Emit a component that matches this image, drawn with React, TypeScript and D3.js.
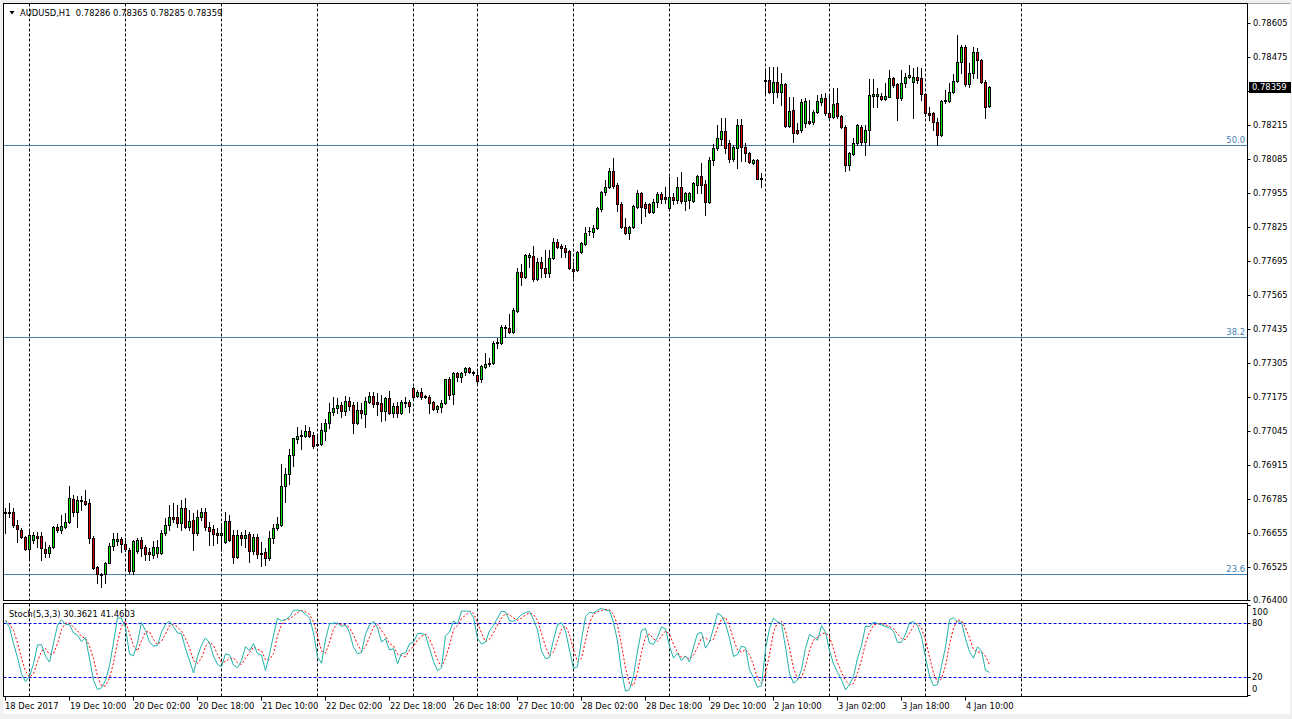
import React from "react";
import * as d3 from "d3";

// AUDUSD H1 candles (bar index 0 = 18 Dec 18:00)
const open = [
0.76731,0.76731,0.76735,0.76686,0.76667,0.76640,0.76595,0.76629,0.76644,0.76644,
0.76595,0.76580,0.76602,0.76678,0.76667,0.76678,0.76697,0.76786,0.76735,0.76782,
0.76778,0.76771,0.76636,0.76525,0.76499,0.76499,0.76541,0.76606,0.76625,0.76633,
0.76614,0.76591,0.76510,0.76587,0.76629,0.76602,0.76583,0.76572,0.76580,0.76580,
0.76656,0.76686,0.76716,0.76716,0.76694,0.76751,0.76678,0.76705,0.76656,0.76716,
0.76735,0.76678,0.76671,0.76656,0.76648,0.76621,0.76701,0.76648,0.76564,0.76648,
0.76636,0.76652,0.76587,0.76640,0.76580,0.76583,0.76560,0.76636,0.76674,0.76686,
0.76835,0.76881,0.76954,0.77015,0.77026,0.77026,0.77045,0.77030,0.76992,0.76996,
0.77045,0.77076,0.77117,0.77133,0.77145,0.77122,0.77160,0.77145,0.77076,0.77125,
0.77110,0.77156,0.77179,0.77156,0.77152,0.77122,0.77171,0.77114,0.77141,0.77114,
0.77156,0.77156,0.77210,0.77179,0.77194,0.77179,0.77175,0.77156,0.77129,0.77137,
0.77152,0.77244,0.77187,0.77267,0.77252,0.77271,0.77286,0.77271,0.77259,0.77244,
0.77290,0.77301,0.77305,0.77382,0.77382,0.77442,0.77439,0.77423,0.77503,0.77652,
0.77633,0.77710,0.77714,0.77626,0.77691,0.77668,0.77649,0.77706,0.77768,0.77752,
0.77744,0.77733,0.77664,0.77660,0.77729,0.77760,0.77809,0.77806,0.77821,0.77894,
0.77959,0.77978,0.78039,0.77985,0.77913,0.77825,0.77802,0.77825,0.77901,0.77955,
0.77913,0.77913,0.77882,0.77920,0.77951,0.77939,0.77897,0.77939,0.77928,0.77978,
0.77924,0.77928,0.77924,0.77985,0.78020,0.77989,0.77920,0.78081,0.78127,0.78161,
0.78192,0.78146,0.78085,0.78127,0.78214,0.78130,0.78107,0.78069,0.78081,0.78012,
0.78386,0.78386,0.78340,0.78379,0.78340,0.78371,0.78211,0.78272,0.78195,0.78195,
0.78222,0.78230,0.78226,0.78264,0.78302,0.78318,0.78260,0.78245,0.78299,0.78249,
0.78207,0.78062,0.78104,0.78146,0.78207,0.78149,0.78195,0.78325,0.78325,0.78325,
0.78314,0.78321,0.78394,0.78371,0.78318,0.78375,0.78398,0.78379,0.78398,0.78394,
0.78333,0.78260,0.78260,0.78226,0.78176,0.78306,0.78306,0.78340,0.78383,0.78455,
0.78512,0.78371,0.78413,0.78493,0.78463,0.78379,0.78286];

const high = [
0.76751,0.76771,0.76751,0.76705,0.76674,0.76644,0.76667,0.76659,0.76659,0.76659,
0.76621,0.76610,0.76682,0.76690,0.76724,0.76731,0.76835,0.76801,0.76797,0.76797,
0.76820,0.76786,0.76644,0.76529,0.76503,0.76545,0.76618,0.76656,0.76656,0.76640,
0.76636,0.76598,0.76629,0.76636,0.76640,0.76610,0.76598,0.76625,0.76629,0.76667,
0.76713,0.76763,0.76771,0.76763,0.76782,0.76790,0.76743,0.76732,0.76743,0.76751,
0.76751,0.76697,0.76686,0.76674,0.76694,0.76735,0.76724,0.76667,0.76667,0.76659,
0.76667,0.76659,0.76652,0.76652,0.76621,0.76598,0.76663,0.76690,0.76716,0.76919,
0.76904,0.76977,0.77019,0.77060,0.77049,0.77068,0.77060,0.77041,0.77030,0.77076,
0.77091,0.77153,0.77175,0.77171,0.77156,0.77179,0.77175,0.77156,0.77156,0.77152,
0.77175,0.77194,0.77194,0.77190,0.77183,0.77175,0.77198,0.77152,0.77156,0.77164,
0.77175,0.77164,0.77214,0.77202,0.77210,0.77183,0.77183,0.77160,0.77145,0.77164,
0.77244,0.77251,0.77271,0.77270,0.77271,0.77290,0.77290,0.77275,0.77278,0.77298,
0.77343,0.77324,0.77389,0.77401,0.77450,0.77450,0.77492,0.77515,0.77668,0.77683,
0.77721,0.77725,0.77752,0.77706,0.77710,0.77737,0.77737,0.77783,0.77779,0.77760,
0.77756,0.77737,0.77691,0.77733,0.77767,0.77825,0.77825,0.77832,0.77901,0.77962,
0.78004,0.78050,0.78088,0.77993,0.77920,0.77859,0.77829,0.77909,0.77966,0.77959,
0.77920,0.77917,0.77932,0.77959,0.77959,0.77978,0.78016,0.77955,0.78016,0.78035,
0.77959,0.77959,0.77997,0.78024,0.78069,0.78004,0.78092,0.78142,0.78214,0.78241,
0.78241,0.78157,0.78138,0.78237,0.78237,0.78146,0.78111,0.78085,0.78085,0.78031,
0.78425,0.78436,0.78436,0.78436,0.78413,0.78375,0.78321,0.78321,0.78222,0.78314,
0.78318,0.78310,0.78272,0.78329,0.78333,0.78337,0.78329,0.78356,0.78356,0.78253,
0.78214,0.78111,0.78165,0.78218,0.78214,0.78214,0.78390,0.78390,0.78356,0.78337,
0.78375,0.78425,0.78398,0.78375,0.78425,0.78413,0.78444,0.78432,0.78436,0.78432,
0.78337,0.78283,0.78264,0.78241,0.78310,0.78348,0.78375,0.78409,0.78558,0.78520,
0.78520,0.78451,0.78512,0.78509,0.78467,0.78386,0.78365];

const low = [
0.76656,0.76716,0.76678,0.76621,0.76636,0.76591,0.76560,0.76617,0.76602,0.76552,
0.76564,0.76564,0.76598,0.76659,0.76656,0.76674,0.76693,0.76720,0.76678,0.76743,
0.76763,0.76618,0.76518,0.76465,0.76449,0.76465,0.76541,0.76591,0.76610,0.76583,
0.76587,0.76503,0.76499,0.76579,0.76568,0.76552,0.76552,0.76560,0.76564,0.76575,
0.76648,0.76667,0.76697,0.76678,0.76667,0.76674,0.76667,0.76591,0.76648,0.76705,
0.76667,0.76610,0.76610,0.76618,0.76598,0.76618,0.76625,0.76541,0.76560,0.76610,
0.76602,0.76545,0.76575,0.76560,0.76529,0.76533,0.76552,0.76618,0.76667,0.76682,
0.76774,0.76843,0.76911,0.76999,0.76977,0.77022,0.77022,0.76980,0.76988,0.76992,
0.77011,0.77057,0.77106,0.77114,0.77099,0.77106,0.77125,0.77038,0.77072,0.77095,
0.77060,0.77152,0.77137,0.77106,0.77083,0.77087,0.77110,0.77099,0.77099,0.77110,
0.77137,0.77118,0.77171,0.77175,0.77167,0.77171,0.77114,0.77125,0.77118,0.77118,
0.77148,0.77167,0.77148,0.77236,0.77232,0.77259,0.77267,0.77259,0.77229,0.77232,
0.77286,0.77294,0.77301,0.77363,0.77378,0.77404,0.77420,0.77420,0.77500,0.77603,
0.77629,0.77672,0.77618,0.77622,0.77633,0.77633,0.77633,0.77702,0.77744,0.77710,
0.77710,0.77664,0.77633,0.77657,0.77725,0.77756,0.77794,0.77786,0.77817,0.77886,
0.77947,0.77974,0.77974,0.77886,0.77821,0.77798,0.77779,0.77821,0.77897,0.77840,
0.77867,0.77878,0.77878,0.77901,0.77917,0.77917,0.77894,0.77913,0.77917,0.77917,
0.77890,0.77897,0.77920,0.77955,0.77955,0.77871,0.77917,0.78062,0.78119,0.78138,
0.78107,0.78073,0.78077,0.78050,0.78077,0.78077,0.78069,0.78065,0.78008,0.77978,
0.78329,0.78337,0.78299,0.78321,0.78291,0.78207,0.78207,0.78149,0.78180,0.78188,
0.78207,0.78218,0.78218,0.78260,0.78291,0.78253,0.78241,0.78241,0.78241,0.78203,
0.78039,0.78043,0.78100,0.78138,0.78138,0.78100,0.78138,0.78283,0.78283,0.78310,
0.78310,0.78321,0.78360,0.78234,0.78310,0.78360,0.78394,0.78241,0.78375,0.78310,
0.78249,0.78234,0.78195,0.78138,0.78172,0.78299,0.78302,0.78337,0.78379,0.78413,
0.78363,0.78360,0.78394,0.78394,0.78375,0.78241,0.78285];

const close = [
0.76735,0.76735,0.76686,0.76671,0.76640,0.76595,0.76648,0.76648,0.76636,0.76598,
0.76580,0.76602,0.76678,0.76667,0.76682,0.76697,0.76790,0.76735,0.76782,0.76778,
0.76767,0.76636,0.76521,0.76499,0.76497,0.76541,0.76606,0.76633,0.76633,0.76614,
0.76595,0.76510,0.76625,0.76629,0.76598,0.76575,0.76575,0.76602,0.76602,0.76656,
0.76686,0.76716,0.76709,0.76694,0.76751,0.76678,0.76701,0.76656,0.76716,0.76735,
0.76678,0.76663,0.76652,0.76648,0.76656,0.76701,0.76629,0.76564,0.76648,0.76636,
0.76648,0.76587,0.76640,0.76575,0.76575,0.76560,0.76636,0.76674,0.76690,0.76835,
0.76881,0.76954,0.77019,0.77026,0.77030,0.77045,0.77026,0.76988,0.76996,0.77049,
0.77076,0.77117,0.77133,0.77145,0.77122,0.77160,0.77141,0.77076,0.77125,0.77114,
0.77160,0.77179,0.77148,0.77148,0.77122,0.77171,0.77114,0.77141,0.77114,0.77156,
0.77152,0.77141,0.77175,0.77194,0.77175,0.77175,0.77152,0.77129,0.77141,0.77152,
0.77244,0.77183,0.77267,0.77252,0.77267,0.77286,0.77271,0.77267,0.77236,0.77294,
0.77301,0.77305,0.77382,0.77384,0.77442,0.77439,0.77423,0.77507,0.77652,0.77633,
0.77718,0.77718,0.77626,0.77691,0.77668,0.77649,0.77706,0.77768,0.77748,0.77744,
0.77729,0.77668,0.77657,0.77729,0.77764,0.77802,0.77811,0.77821,0.77897,0.77959,
0.77978,0.78039,0.77981,0.77913,0.77825,0.77802,0.77825,0.77905,0.77955,0.77901,
0.77897,0.77882,0.77920,0.77951,0.77932,0.77932,0.77939,0.77928,0.77978,0.77924,
0.77955,0.77955,0.77993,0.78020,0.77985,0.77920,0.78081,0.78127,0.78165,0.78192,
0.78127,0.78085,0.78130,0.78214,0.78130,0.78107,0.78073,0.78081,0.78008,0.78008,
0.78382,0.78340,0.78379,0.78340,0.78371,0.78211,0.78268,0.78184,0.78184,0.78302,
0.78306,0.78222,0.78264,0.78306,0.78318,0.78260,0.78245,0.78295,0.78249,0.78207,
0.78062,0.78107,0.78146,0.78214,0.78149,0.78195,0.78329,0.78333,0.78333,0.78314,
0.78325,0.78394,0.78367,0.78318,0.78375,0.78398,0.78406,0.78398,0.78386,0.78333,
0.78260,0.78253,0.78226,0.78176,0.78306,0.78310,0.78340,0.78383,0.78455,0.78512,
0.78371,0.78413,0.78493,0.78463,0.78379,0.78283,0.78359];

const separatorBars = [6, 30, 54, 78, 102, 118, 142, 166, 190, 206, 230, 254];
const dateLabelBars = [0, 16, 32, 48, 64, 80, 96, 112, 128, 144, 160, 176, 192, 208, 224, 240];
const dateLabels = ["18 Dec 2017", "19 Dec 10:00", "20 Dec 02:00", "20 Dec 18:00", "21 Dec 10:00",
  "22 Dec 02:00", "22 Dec 18:00", "26 Dec 18:00", "27 Dec 10:00", "28 Dec 02:00", "28 Dec 18:00",
  "29 Dec 10:00", "2 Jan 10:00", "3 Jan 02:00", "3 Jan 18:00", "4 Jan 10:00"];
const priceTicks = [0.78605, 0.78475, 0.78345, 0.78215, 0.78085, 0.77955, 0.77825, 0.77695, 0.77565,
  0.77435, 0.77305, 0.77175, 0.77045, 0.76915, 0.76785, 0.76655, 0.76525, 0.76400];
const fibNames = ["23.6", "38.2", "50.0"];
const fibPrices = [0.76499, 0.77405, 0.78138];
const stochLevels = [80, 20];
const stochTicks = [100, 80, 20, 0];
const headerText = "AUDUSD,H1  0.78286 0.78365 0.78285 0.78359";
const stochText = "Stoch(5,3,3) 30.3621 41.4603";
const lastPrice = 0.78359;

const W = 1292, H = 719;
const FONT = "Tahoma, 'DejaVu Sans', sans-serif";
const FS = 8.4;
const L = 3.5, R = 1247.5, MT = 3.5, MB = 600.5, ST = 603.5, SB = 696.5;

function stochastic(kP: number, slow: number, dP: number) {
  const n = close.length;
  const num: number[] = [], den: number[] = [];
  for (let i = 0; i < n; i++) {
    const s = Math.max(0, i - kP + 1);
    const hh = d3.max(high.slice(s, i + 1)) as number;
    const ll = d3.min(low.slice(s, i + 1)) as number;
    num.push(close[i] - ll);
    den.push(hh - ll);
  }
  const K: number[] = [];
  for (let i = 0; i < n; i++) {
    const s = Math.max(0, i - slow + 1);
    const sn = d3.sum(num.slice(s, i + 1));
    const sd = d3.sum(den.slice(s, i + 1));
    K.push(sd === 0 ? 50 : (sn / sd) * 100);
  }
  const D: number[] = [];
  for (let i = 0; i < n; i++) {
    const s = Math.max(0, i - dP + 1);
    D.push(d3.mean(K.slice(s, i + 1)) as number);
  }
  return { K, D };
}

export default function App() {
  const x = d3.scaleLinear().domain([0, 1]).range([5.5, 9.5]);
  const y = d3.scaleLinear().domain([0.764, 0.78692]).range([600, 0]);
  const ys = d3.scaleLinear().domain([0, 100]).range([695.3, 605.3]);
  const { K, D } = stochastic(5, 3, 3);
  const lineK = d3.line<number>().x((_, i) => x(i)).y((v) => ys(v));
  const green = "#00e600", red = "#e00000";
  const lastY = y(lastPrice);

  const candles = close.map((c, i) => {
    const px = Math.round(x(i) - 0.5);
    const yH = Math.round(y(high[i])), yL = Math.round(y(low[i]));
    const yO = Math.round(y(open[i])), yC = Math.round(y(c));
    const top = Math.min(yO, yC), bot = Math.max(yO, yC);
    const col = c > open[i] ? green : red;
    return (
      <g key={i}>
        <rect x={px} y={yH} width={1} height={yL - yH + 1} fill="#000" />
        <rect x={px - 1} y={top} width={3} height={bot - top + 1} fill="#000" />
        {bot - top >= 2 && <rect x={px} y={top + 1} width={1} height={bot - top - 1} fill={col} />}
      </g>
    );
  });

  return (
    <svg width={W} height={H} style={{ position: "absolute", left: 0, top: 0, background: "#fff" }}
      fontFamily={FONT}>
      <defs>
        <clipPath id="mainClip"><rect x={L} y={MT} width={R - L} height={MB - MT} /></clipPath>
        <clipPath id="stochClip"><rect x={L} y={ST} width={R - L} height={SB - ST} /></clipPath>
      </defs>
      <rect x={0} y={0} width={W} height={H} fill="#fff" />
      <rect x={0} y={0} width={W} height={3} fill="#f0f0f0" />
      <rect x={0} y={0} width={3} height={H} fill="#f0f0f0" />
      <rect x={1290} y={0} width={2} height={H} fill="#f0f0f0" />
      <rect x={0} y={714} width={W} height={5} fill="#f0f0f0" />
      <line x1={3} x2={1290} y1={3.5} y2={3.5} stroke="#a0a0a0" />

      {/* separators */}
      {separatorBars.map((b) => (
        <g key={"s" + b}>
          <line x1={x(b)} x2={x(b)} y1={MT} y2={MB} stroke="#000" strokeDasharray="3,2" />
          <line x1={x(b)} x2={x(b)} y1={ST} y2={SB} stroke="#000" strokeDasharray="3,2" />
        </g>
      ))}

      {/* fibonacci levels */}
      {fibPrices.map((p, k) => (
        <g key={"f" + k}>
          <line x1={L} x2={R} y1={Math.round(y(p)) + 0.5} y2={Math.round(y(p)) + 0.5} stroke="#4682b4" />
          <text x={1245} y={Math.round(y(p)) - 2} textAnchor="end" fontSize={FS} fill="#4682b4">{fibNames[k]}</text>
        </g>
      ))}

      <g clipPath="url(#mainClip)">{candles}</g>

      {/* stochastic */}
      {stochLevels.map((v) => (
        <line key={"l" + v} x1={L} x2={R} y1={Math.round(ys(v)) + 0.5} y2={Math.round(ys(v)) + 0.5}
          stroke="#0000e0" strokeDasharray="3,2" />
      ))}
      <g clipPath="url(#stochClip)">
        <path d={lineK(D) || ""} fill="none" stroke="#ff0000" strokeDasharray="2,2" />
        <path d={lineK(K) || ""} fill="none" stroke="#20b2aa" strokeWidth={1} />
      </g>

      {/* panel borders */}
      <rect x={L} y={MT} width={R - L} height={MB - MT} fill="none" stroke="#000" />
      <rect x={L} y={ST} width={R - L} height={SB - ST} fill="none" stroke="#000" />

      {/* price axis */}
      {priceTicks.map((p) => (
        <g key={"p" + p}>
          <line x1={R} x2={R + 3} y1={Math.round(y(p)) + 0.5} y2={Math.round(y(p)) + 0.5} stroke="#000" />
          {Math.abs(y(p) - lastY) > 9 && (
            <text x={1253} y={y(p) + 3} fontSize={FS} fill="#000">{p.toFixed(5)}</text>
          )}
        </g>
      ))}
      <rect x={1249} y={Math.round(lastY) - 5} width={42} height={11} fill="#000" />
      <text x={1252} y={lastY + 3} fontSize={FS} fill="#fff">{lastPrice.toFixed(5)}</text>

      {/* stoch axis */}
      {stochTicks.map((v) => (
        <g key={"st" + v}>
          <line x1={R} x2={R + 3} y1={Math.round(ys(v)) + 0.5} y2={Math.round(ys(v)) + 0.5} stroke="#000" />
          <text x={1252} y={Math.min(689, Math.max(611.5, ys(v))) + 3} fontSize={FS} fill="#000">{v}</text>
        </g>
      ))}

      {/* time axis */}
      {dateLabelBars.map((b, k) => (
        <g key={"d" + b}>
          <line x1={x(b)} x2={x(b)} y1={SB} y2={SB + 4} stroke="#000" />
          <text x={k === 0 ? x(b) - 0.5 : x(b) + 0.5} y={709} fontSize={FS} fill="#000">{dateLabels[k]}</text>
        </g>
      ))}

      {/* titles */}
      <path d="M9.5,11 L14.5,11 L12,14.5 Z" fill="#000" />
      <text x={20} y={16} fontSize={FS} fill="#000" style={{ whiteSpace: "pre" }}>{headerText}</text>
      <text x={9} y={617} fontSize={FS} fill="#000">{stochText}</text>
    </svg>
  );
}
